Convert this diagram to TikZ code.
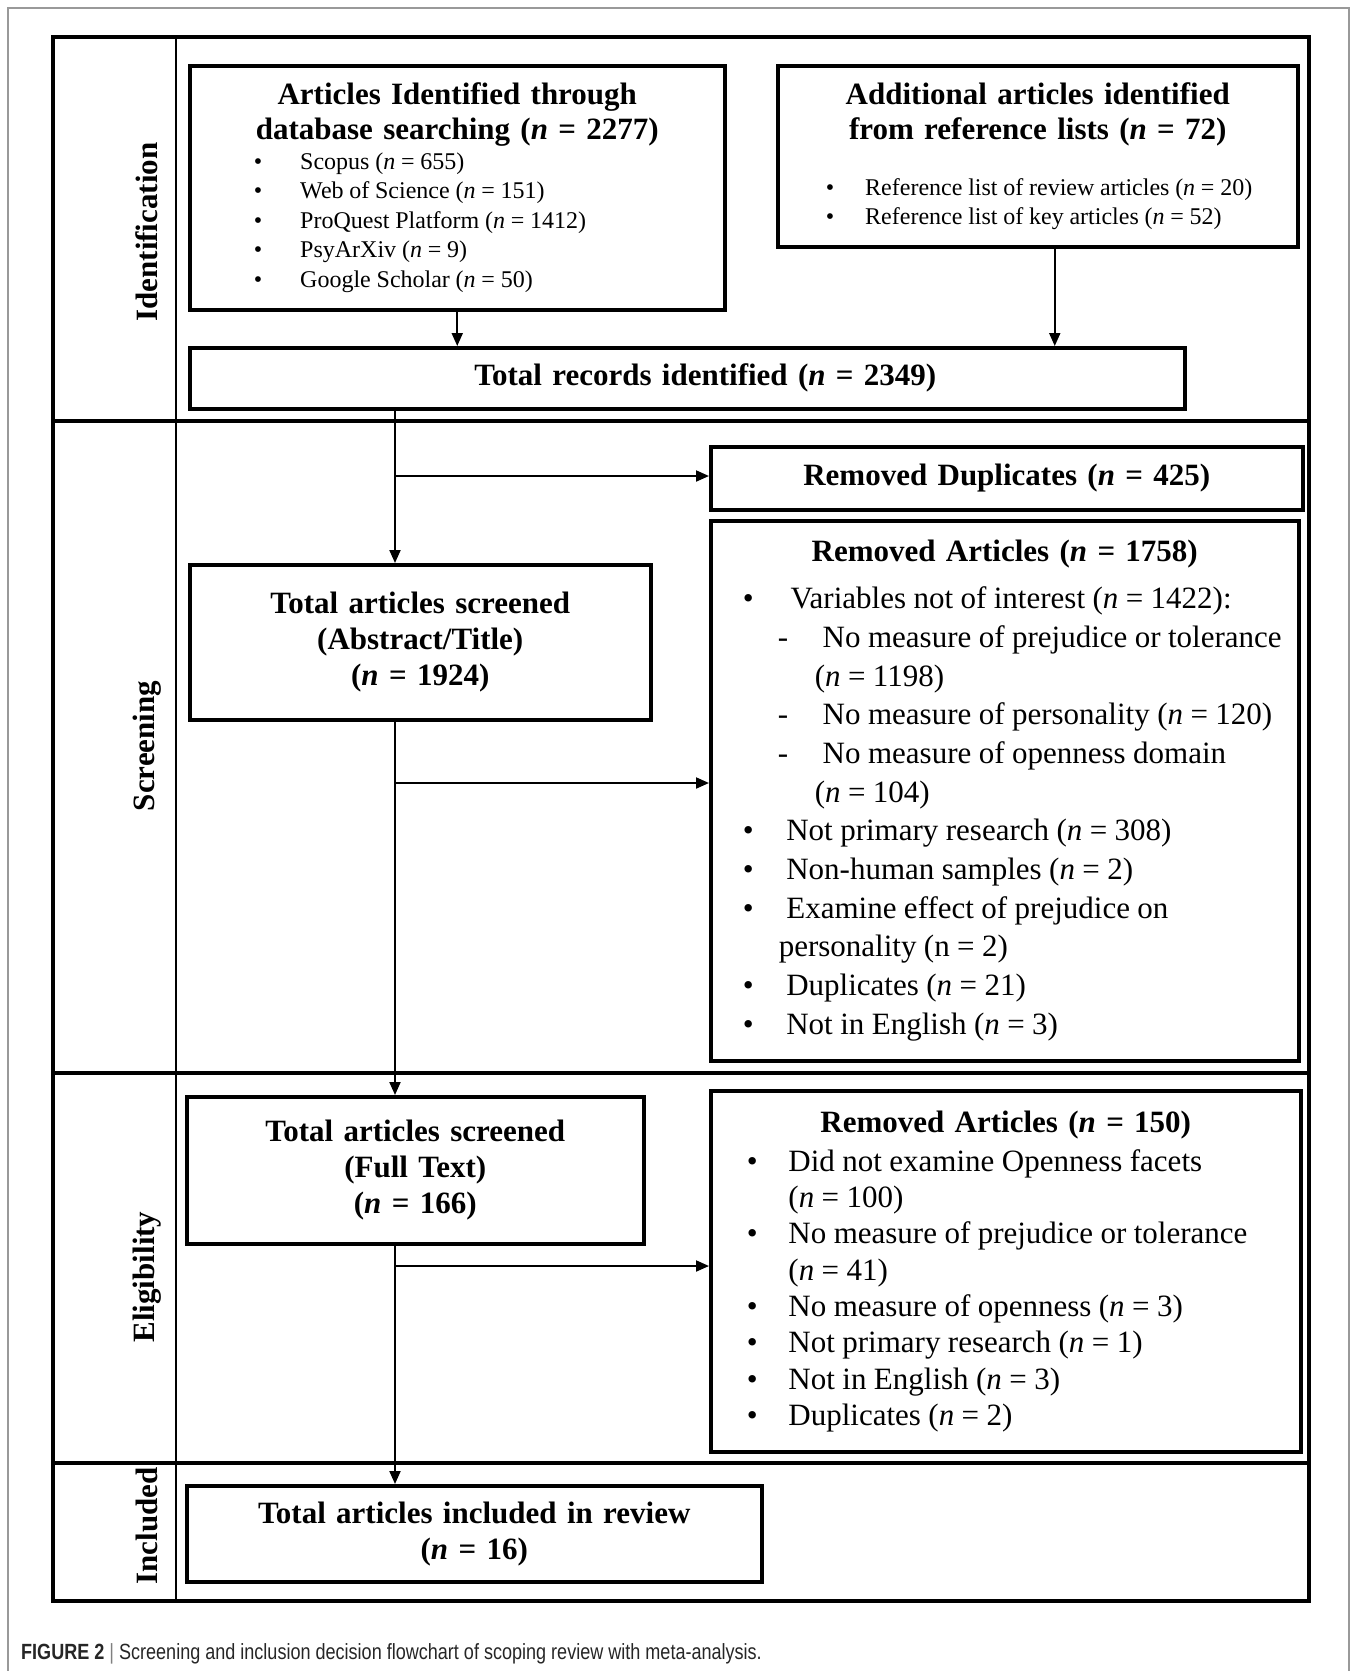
\documentclass[tikz,border=0pt]{standalone}
\usepackage{fontspec}
\setmainfont{Liberation Serif}
\newfontfamily\capfont[FakeStretch=0.82]{Liberation Sans}
\usetikzlibrary{arrows.meta}

% (n = ...) with italic n
\newcommand{\nn}[1]{(\textit{n} = #1)}
% narrower word spaces
\newcommand{\tightsp}{\spaceskip=.24em plus .05em minus .03em\relax}
% list lines: offset of mark, room for mark, text
\newcommand{\itm}[3]{\noindent\tightsp\hspace*{#1pt}\makebox[#2pt][l]{\textbullet}#3\par}
\newcommand{\dsh}[3]{\noindent\tightsp\hspace*{#1pt}\makebox[#2pt][l]{-}#3\par}
\newcommand{\cnt}[2]{\noindent\tightsp\hspace*{#1pt}#2\par}

\tikzset{
  stage/.style={draw, line width=3.5pt, inner sep=0pt, anchor=north west,
    font=\fontsize{31}{38.7}\selectfont},
  title/.style={align=center, font=\bfseries\fontsize{31}{36}\selectfont},
  phase/.style={rotate=90, inner sep=0pt, font=\bfseries\fontsize{31}{36}\selectfont},
  flow/.style={line width=2pt, -{Triangle[length=13pt,width=11pt]}},
  lane/.style={line width=4pt},
}

\begin{document}
\begin{tikzpicture}[x=1pt, y=-1pt]
\useasboundingbox (0,0) rectangle (1357,1671);
% panel
\draw[black!40, line width=1.2pt] (8,1671) -- (8,8) -- (1349,8) -- (1349,1671);

% lanes
\draw[lane] (53,37) rectangle (1309,1601);
\draw[line width=2pt] (176,37) -- (176,1601);
\draw[lane] (53,421) -- (1309,421);
\draw[lane] (53,1073) -- (1309,1073);
\draw[lane] (53,1463) -- (1309,1463);

\node[phase] (ident) at (147,232) {Identification};
\node[phase] (screen) at (147,746) {Screening};
\node[phase] (elig) at (147,1277) {Eligibility};
\node[phase] (incl) at (147,1526) {Included};

% identification
\node[stage, text width=535pt, minimum height=244pt] (dbsearch) at (188,64) {%
  {\centering\bfseries\fontsize{31}{35}\selectfont Articles Identified through\\ database searching \nn{2277}\par}
  \fontsize{24}{29.5}\selectfont
  \itm{64}{46.5}{Scopus \nn{655}}
  \itm{64}{46.5}{Web of Science \nn{151}}
  \itm{64}{46.5}{ProQuest Platform \nn{1412}}
  \itm{64}{46.5}{PsyArXiv \nn{9}}
  \itm{64}{46.5}{Google Scholar \nn{50}}};
\node[stage, text width=520pt, minimum height=181pt] (addrefs) at (776,64) {%
  {\centering\bfseries\fontsize{31}{35}\selectfont Additional articles identified\\ from reference lists \nn{72}\par}
  \vspace{27pt}
  \fontsize{24}{29}\selectfont
  \itm{48}{39.5}{Reference list of review articles \nn{20}}
  \itm{48}{39.5}{Reference list of key articles \nn{52}}};
\node[stage, title, text width=995pt, minimum height=61pt] (totalrec) at (188,346)
  {\hspace*{36pt}Total records identified \nn{2349}};

% screening
\node[stage, title, text width=592pt, minimum height=63pt] (dupl) at (709,445)
  {Removed Duplicates \nn{425}};
\node[stage, title, text width=461pt, minimum height=155pt] (screened) at (188,563)
  {Total articles screened\\ (Abstract/Title)\\ \nn{1924}};
\node[stage, text width=588pt, minimum height=540pt] (removeda) at (709,519) {%
  {\centering\bfseries Removed Articles \nn{1758}\par}
  \vspace{8pt}
  \itm{32}{48}{Variables not of interest \nn{1422}:}
  \dsh{67}{45}{No measure of prejudice or tolerance}
  \cnt{104}{\nn{1198}}
  \dsh{67}{45}{No measure of personality \nn{120}}
  \dsh{67}{45}{No measure of openness domain}
  \cnt{104}{\nn{104}}
  \itm{32}{43.6}{Not primary research \nn{308}}
  \itm{32}{43.6}{Non-human samples \nn{2}}
  \itm{32}{43.6}{Examine effect of prejudice on}
  \cnt{68}{personality (n = 2)}
  \itm{32}{43.6}{Duplicates \nn{21}}
  \itm{32}{43.6}{Not in English \nn{3}}};

% eligibility
\node[stage, title, text width=457pt, minimum height=147pt] (fulltext) at (185,1095)
  {Total articles screened\\ (Full Text)\\ \nn{166}};
\node[stage, text width=590pt, minimum height=361pt, font=\fontsize{31}{36.3}\selectfont] (removedb) at (709,1089) {%
  {\centering\bfseries Removed Articles \nn{150}\par}
  \vspace{3pt}
  \itm{36}{41.7}{Did not examine Openness facets}
  \cnt{77.7}{\nn{100}}
  \itm{36}{41.7}{No measure of prejudice or tolerance}
  \cnt{77.7}{\nn{41}}
  \itm{36}{41.7}{No measure of openness \nn{3}}
  \itm{36}{41.7}{Not primary research \nn{1}}
  \itm{36}{41.7}{Not in English \nn{3}}
  \itm{36}{41.7}{Duplicates \nn{2}}};

% included
\node[stage, title, text width=575pt, minimum height=96pt] (included) at (185,1484)
  {Total articles included in review\\ \nn{16}};

% connectors
\coordinate (trunk) at (395,0);
\coordinate (split1) at (395,476);
\coordinate (split2) at (395,783);
\coordinate (split3) at (395,1266);
\draw[flow] (dbsearch.south) -- (dbsearch.south |- totalrec.north);
\draw[flow] ([xshift=17pt]addrefs.south) -- ([xshift=17pt]addrefs.south |- totalrec.north);
\draw[flow] (totalrec.south -| trunk) -- (screened.north -| trunk);
\draw[flow] (split1) -- (split1 -| dupl.west);
\draw[flow] (screened.south -| trunk) -- (fulltext.north -| trunk);
\draw[flow] (split2) -- (split2 -| removeda.west);
\draw[flow] (fulltext.south -| trunk) -- (included.north -| trunk);
\draw[flow] (split3) -- (split3 -| removedb.west);

% caption
\node[anchor=west, inner sep=0pt, text=black!85, font=\capfont\fontsize{22}{26}\selectfont] (caption) at (21,1654)
  {\textbf{FIGURE 2} {\color{black!50}|} Screening and inclusion decision flowchart of scoping review with meta-analysis.};
\end{tikzpicture}
\end{document}
